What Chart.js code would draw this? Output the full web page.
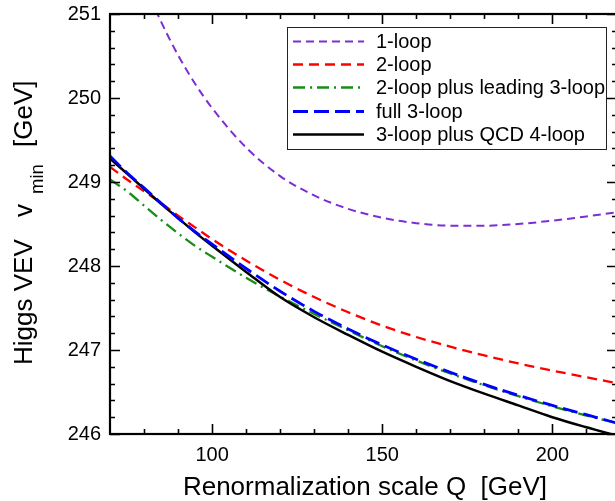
<!DOCTYPE html>
<html>
<head>
<meta charset="utf-8">
<script src="https://cdn.jsdelivr.net/npm/chart.js@4"></script>
<style>
  html, body { margin: 0; padding: 0; background: #fff; overflow: hidden; }
  #wrap { width: 618px; height: 501px; }
</style>
</head>
<body>
<div id="wrap"><canvas id="vevChart" width="618" height="501"></canvas></div>
<script>
// renormalization scale Q [GeV]
const scaleQ = [70, 75, 80, 85, 90, 95, 100, 110, 120, 130, 140, 150, 160, 170, 180, 190, 200, 210, 219];

// v_min [GeV] for each approximation
const vev1Loop       = [252.50, 251.89, 251.37, 250.91, 250.51, 250.17, 249.88, 249.41, 249.07, 248.84, 248.68, 248.575, 248.51, 248.48, 248.48, 248.50, 248.54, 248.59, 248.64];
const vev2Loop       = [249.18, 249.03, 248.89, 248.75, 248.60, 248.46, 248.32, 248.065, 247.835, 247.63, 247.45, 247.29, 247.155, 247.04, 246.935, 246.84, 246.755, 246.675, 246.605];
const vev2LoopLead3  = [249.03, 248.89, 248.72, 248.55, 248.39, 248.24, 248.11, 247.86, 247.635, 247.43, 247.235, 247.045, 246.875, 246.72, 246.58, 246.45, 246.33, 246.22, 246.13];
const vevFull3Loop   = [249.31, 249.11, 248.93, 248.75, 248.57, 248.41, 248.26, 247.97, 247.70, 247.46, 247.25, 247.06, 246.89, 246.735, 246.59, 246.46, 246.34, 246.23, 246.13];
const vev3LoopQcd4   = [249.28, 249.10, 248.92, 248.74, 248.57, 248.40, 248.24, 247.93, 247.63, 247.39, 247.18, 246.98, 246.80, 246.63, 246.48, 246.34, 246.20, 246.08, 245.98];

const seriesLabels = ['1-loop', '2-loop', '2-loop plus leading 3-loop', 'full 3-loop', '3-loop plus QCD 4-loop'];

// axis ticks
const xTickValues = [100, 150, 200];
const yTickValues = [246, 247, 248, 249, 250, 251];

const FONT = '"Liberation Sans", Arial, Helvetica, sans-serif';

function toPoints(ys) {
  return scaleQ.map((q, i) => ({ x: q, y: ys[i] }));
}

// frame with inward ticks on all four sides, like the original plot
const framePlugin = {
  id: 'frame',
  afterDatasetsDraw(chart) {
    const { ctx, chartArea: a, scales: { x, y } } = chart;
    ctx.save();
    ctx.strokeStyle = '#000';
    ctx.lineWidth = 1.6;
    // minor + major ticks along x
    for (let q = 80; q <= 210; q += 10) {
      const px = Math.round(x.getPixelForValue(q)) + 0.5;
      const len = xTickValues.includes(q) ? 10 : 5;
      ctx.beginPath();
      ctx.moveTo(px, a.bottom); ctx.lineTo(px, a.bottom - len);
      ctx.moveTo(px, a.top); ctx.lineTo(px, a.top + len);
      ctx.stroke();
    }
    // y ticks every 0.2
    for (let k = 0; k <= 25; k++) {
      const v = 246 + k * 0.2;
      const py = Math.round(y.getPixelForValue(v)) + 0.5;
      const len = (k % 5 === 0) ? 10 : 5;
      ctx.beginPath();
      ctx.moveTo(a.left, py); ctx.lineTo(a.left + len, py);
      ctx.moveTo(a.right, py); ctx.lineTo(a.right - len, py);
      ctx.stroke();
    }
    ctx.lineWidth = 2.2;
    ctx.strokeRect(a.left, a.top, a.right - a.left, a.bottom - a.top);
    ctx.restore();
  }
};

// boxed legend in the upper right corner
const boxLegendPlugin = {
  id: 'boxLegend',
  afterDraw(chart) {
    const ctx = chart.ctx;
    const bx = 287, by = 27, bw = 319, bh = 122;
    ctx.save();
    ctx.fillStyle = '#fff';
    ctx.fillRect(bx, by, bw, bh);
    ctx.strokeStyle = '#222';
    ctx.lineWidth = 1;
    ctx.strokeRect(bx + 0.5, by + 0.5, bw, bh);
    ctx.font = '20px ' + FONT;
    ctx.textBaseline = 'middle';
    chart.data.datasets.forEach((ds, i) => {
      const cy = Math.round(40.5 + i * 23.4) + 0.5;
      ctx.strokeStyle = ds.borderColor;
      ctx.lineWidth = ds.borderWidth;
      ctx.setLineDash(ds.borderDash || []);
      ctx.beginPath();
      ctx.moveTo(293, cy); ctx.lineTo(364, cy);
      ctx.stroke();
      ctx.setLineDash([]);
      ctx.fillStyle = '#000';
      ctx.fillText(ds.label, 376, cy + 1);
    });
    ctx.restore();
  }
};

// axis titles (y title has a subscript)
const titlesPlugin = {
  id: 'titles',
  afterDraw(chart) {
    const ctx = chart.ctx;
    ctx.save();
    ctx.fillStyle = '#000';
    ctx.font = '26px ' + FONT;
    ctx.textAlign = 'center';
    ctx.textBaseline = 'alphabetic';
    ctx.fillText('Renormalization scale Q  [GeV]', 365, 495);

    ctx.translate(32, 365);
    ctx.rotate(-Math.PI / 2);
    ctx.textAlign = 'left';
    ctx.fillText('Higgs VEV', 0, 0);
    ctx.fillText('v', 148, 0);
    ctx.font = '18.5px ' + FONT;
    ctx.fillText('min', 171, 11);
    ctx.font = '26px ' + FONT;
    ctx.fillText('[GeV]', 218, 0);
    ctx.restore();
  }
};

new Chart(document.getElementById('vevChart'), {
  type: 'line',
  data: {
    datasets: [
      { label: seriesLabels[0], data: toPoints(vev1Loop), borderColor: '#7b2fd3', borderWidth: 2, borderDash: [8, 5], order: 5 },
      { label: seriesLabels[1], data: toPoints(vev2Loop), borderColor: '#ff0000', borderWidth: 2.3, borderDash: [10, 6], order: 4 },
      { label: seriesLabels[2], data: toPoints(vev2LoopLead3), borderColor: '#1a8c1a', borderWidth: 2.3, borderDash: [12, 5, 2, 5], order: 3 },
      { label: seriesLabels[3], data: toPoints(vevFull3Loop), borderColor: '#0000ff', borderWidth: 2.8, borderDash: [15, 6], order: 1 },
      { label: seriesLabels[4], data: toPoints(vev3LoopQcd4), borderColor: '#000000', borderWidth: 2.5, order: 2 }
    ]
  },
  options: {
    responsive: false,
    animation: false,
    devicePixelRatio: 1,
    layout: { padding: { top: 14, right: 1, left: 0, bottom: 0 } },
    elements: {
      point: { radius: 0 },
      line: { tension: 0.4, cubicInterpolationMode: 'monotone', fill: false }
    },
    plugins: { legend: { display: false }, tooltip: { enabled: false } },
    scales: {
      x: {
        type: 'linear',
        min: 70,
        max: 219,
        grid: { display: false, drawTicks: false },
        border: { display: false },
        afterBuildTicks: s => { s.ticks = xTickValues.map(v => ({ value: v })); },
        afterFit: s => { s.height = 67; s.paddingLeft = 0; s.paddingRight = 0; },
        ticks: { color: '#000', font: { family: FONT, size: 20 }, padding: 9, maxRotation: 0 }
      },
      y: {
        type: 'linear',
        min: 246,
        max: 251,
        grid: { display: false, drawTicks: false },
        border: { display: false },
        afterBuildTicks: s => { s.ticks = yTickValues.map(v => ({ value: v })); },
        afterFit: s => { s.width = 110; s.paddingTop = 0; s.paddingBottom = 0; },
        ticks: { color: '#000', font: { family: FONT, size: 20 }, padding: 9 }
      }
    }
  },
  plugins: [framePlugin, boxLegendPlugin, titlesPlugin]
});
</script>
</body>
</html>
